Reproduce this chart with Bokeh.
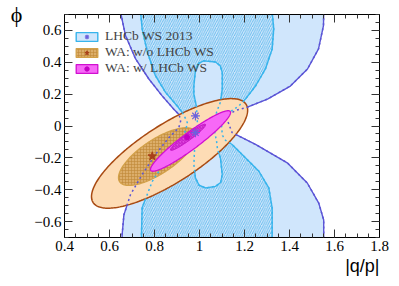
import numpy as np
from bokeh.plotting import figure
from bokeh.models import Range1d, LinearAxis, FixedTicker, Legend, LegendItem, Title
from bokeh.embed import file_html
from bokeh.resources import INLINE

# ---------------- data ----------------
x_ticks = [0.4, 0.6, 0.8, 1.0, 1.2, 1.4, 1.6, 1.8]
y_ticks = [-0.6, -0.4, -0.2, 0.0, 0.2, 0.4, 0.6]
x_minor = [round(0.4 + 0.05 * i, 2) for i in range(29)]
y_minor = [round(-0.7 + 0.05 * i, 2) for i in range(29)]

x_title = "|q/p|"
y_title = "ϕ"
legend_labels = ["LHCb WS 2013", "WA: w/o LHCb WS", "WA: w/ LHCb WS"]

# LHCb WS 2013: outer contour (left and right branches)
lhcb_out_left_x = [0.651, 0.649, 0.671, 0.716, 0.775, 0.834, 0.886, 0.910, 0.916, 0.908,
                   0.864, 0.804, 0.745, 0.693, 0.664, 0.656, 0.656]
lhcb_out_left_y = [0.77, 0.716, 0.568, 0.421, 0.295, 0.189, 0.105, 0.070, 0.030, -0.010,
                   -0.073, -0.179, -0.305, -0.432, -0.558, -0.684, -0.77]
lhcb_out_right_x = [1.552, 1.552, 1.551, 1.529, 1.480, 1.404, 1.302, 1.213, 1.164, 1.129,
                    1.120, 1.129, 1.145, 1.249, 1.390, 1.479, 1.530, 1.552, 1.552, 1.552]
lhcb_out_right_y = [0.77, 0.705, 0.630, 0.484, 0.358, 0.251, 0.169, 0.118, 0.099, 0.074,
                    0.049, 0.017, -0.042, -0.116, -0.231, -0.358, -0.484, -0.590, -0.697, -0.77]
# LHCb WS 2013: inner contour
lhcb_in_left_x = [0.738, 0.738, 0.745, 0.768, 0.804, 0.849, 0.902, 0.929, 0.947, 0.933,
                  0.923, 0.849, 0.790, 0.745, 0.742, 0.742]
lhcb_in_left_y = [0.77, 0.716, 0.611, 0.464, 0.316, 0.211, 0.124, 0.074, 0.017, -0.047,
                  -0.116, -0.221, -0.348, -0.514, -0.684, -0.77]
lhcb_in_right_x = [1.324, 1.323, 1.330, 1.323, 1.293, 1.249, 1.204, 1.175, 1.133, 1.102,
                   1.098, 1.102, 1.116, 1.145, 1.204, 1.264, 1.308, 1.323, 1.323, 1.324]
lhcb_in_right_y = [0.77, 0.716, 0.611, 0.484, 0.358, 0.251, 0.169, 0.126, 0.086, 0.042,
                   -0.008, -0.059, -0.090, -0.116, -0.200, -0.284, -0.389, -0.516, -0.684, -0.77]
lhcb_hole_x = [1.018, 1.071, 1.092, 1.101, 1.101, 1.093, 1.076, 1.067, 1.067, 1.076, 1.080,
               1.093, 1.101, 1.094, 1.071, 1.027, 0.998, 0.982, 0.975, 0.978, 0.991, 0.991,
               0.987, 0.975, 0.975, 0.982, 0.995]
lhcb_hole_y = [0.409, 0.402, 0.378, 0.337, 0.232, 0.150, 0.087, 0.030, -0.034, -0.097, -0.147,
               -0.200, -0.305, -0.355, -0.379, -0.389, -0.372, -0.326, -0.242, -0.147, -0.053,
               0.011, 0.118, 0.200, 0.253, 0.347, 0.392]
lhcb_best_x = [0.982, 0.982]
lhcb_best_y = [0.063, -0.042]

# World averages: centre, half extent in x / y, correlation
wa_wo_cx, wa_wo_cy = [0.867, 0.813], [-0.172, -0.192]
wa_wo_ex, wa_wo_ey = [0.347, 0.173], [0.344, 0.181]
wa_wo_rho = [0.789, 0.73]
wa_wo_best = (0.790, -0.190)

wa_w_cx, wa_w_cy = [0.960, 0.949], [-0.094, -0.071]
wa_w_ex, wa_w_ey = [0.178, 0.078], [0.190, 0.082]
wa_w_rho = [0.94, 0.955]
wa_w_best = (0.945, -0.070)


def ellipse(cx, cy, ex, ey, rho, n=240):
    t = np.linspace(0, 2 * np.pi, n)
    d = np.arccos(rho)
    return cx + ex * np.cos(t), cy + ey * np.cos(t + d)


# ---------------- colours ----------------
LIGHT_BLUE = "#d0e6fc"
PURPLE = "#5b55d6"
CYAN = "#38b4ec"
PEACH = "#fddcb5"
BROWN = "#a84a12"
TAN = "#dcae6a"
GOLD = "#d2a048"
MAGENTA = "#f768f7"
MAGENTA_LINE = "#d010d0"
SERIF = "Liberation Serif"

p = figure(width=390, height=282, x_range=Range1d(0.4, 1.8), y_range=Range1d(-0.7, 0.7),
           output_backend="svg", toolbar_location=None,
           min_border_left=64, min_border_right=11, min_border_top=14, min_border_bottom=45)
p.grid.visible = False
p.outline_line_color = "black"
p.background_fill_color = "white"
p.border_fill_color = "white"

# LHCb outer region
out_x = lhcb_out_left_x + lhcb_out_right_x[::-1]
out_y = lhcb_out_left_y + lhcb_out_right_y[::-1]
p.patch(out_x, out_y, fill_color=LIGHT_BLUE, line_color=PURPLE, line_width=1.4)

# LHCb inner (hatched) band
in_x = lhcb_in_left_x + lhcb_in_right_x[::-1]
in_y = lhcb_in_left_y + lhcb_in_right_y[::-1]
p.patch(in_x, in_y, fill_color=LIGHT_BLUE, line_color=CYAN, line_width=1.4,
        hatch_pattern="/", hatch_color="#4db3ea", hatch_scale=4.5, hatch_weight=0.8)
hole = p.patch(lhcb_hole_x, lhcb_hole_y, fill_color=LIGHT_BLUE, line_color=CYAN, line_width=1.4)

# WA without LHCb WS
ox, oy = ellipse(wa_wo_cx[0], wa_wo_cy[0], wa_wo_ex[0], wa_wo_ey[0], wa_wo_rho[0])
p.patch(ox, oy, fill_color=PEACH, line_color=BROWN, line_width=1.5)
ix, iy = ellipse(wa_wo_cx[1], wa_wo_cy[1], wa_wo_ex[1], wa_wo_ey[1], wa_wo_rho[1])
wo_in = p.patch(ix, iy, fill_color=TAN, line_color=GOLD, line_width=1.3,
                hatch_pattern="+", hatch_color="#c08838", hatch_scale=3, hatch_weight=0.6)

# dotted continuation of LHCb contours
p.multi_line([lhcb_out_left_x, lhcb_out_right_x], [lhcb_out_left_y, lhcb_out_right_y],
             line_color=PURPLE, line_width=1.5, line_dash="2 3")
p.multi_line([lhcb_in_left_x, lhcb_in_right_x, lhcb_hole_x + lhcb_hole_x[:1]],
             [lhcb_in_left_y, lhcb_in_right_y, lhcb_hole_y + lhcb_hole_y[:1]],
             line_color=CYAN, line_width=1.5, line_dash="2 3")

# WA with LHCb WS
mx, my = ellipse(wa_w_cx[0], wa_w_cy[0], wa_w_ex[0], wa_w_ey[0], wa_w_rho[0])
w_out = p.patch(mx, my, fill_color=MAGENTA, line_color=MAGENTA_LINE, line_width=1.3)
nx, ny = ellipse(wa_w_cx[1], wa_w_cy[1], wa_w_ex[1], wa_w_ey[1], wa_w_rho[1])
p.patch(nx, ny, fill_color="#e048e0", line_color="#c010c0", line_width=1.0,
        hatch_pattern="/", hatch_color="#b000b0", hatch_scale=3, hatch_weight=0.6)

# best-fit points
lstar = p.scatter(lhcb_best_x, lhcb_best_y, marker="asterisk", size=9, line_color="#6c62dc",
                  line_width=1.2)
wstar = p.scatter([wa_wo_best[0]], [wa_wo_best[1]], marker="star", size=9,
                  fill_color="#a8401a", line_color="#a8401a")
wdot = p.scatter([wa_w_best[0]], [wa_w_best[1]], marker="circle", size=5,
                 fill_color="#c400c4", line_color="#c400c4")

# ---------------- axes ----------------
for ax in (p.xaxis[0], p.yaxis[0]):
    ax.major_tick_in = 8
    ax.major_tick_out = 0
    ax.minor_tick_in = 4
    ax.minor_tick_out = 0
    ax.major_tick_line_color = "#333333"
    ax.minor_tick_line_color = "#333333"
    ax.axis_line_color = "black"
    ax.major_label_text_font = SERIF
    ax.major_label_text_font_size = "15px"
    ax.major_label_text_color = "black"
    ax.major_label_standoff = 3
p.xaxis[0].ticker = FixedTicker(ticks=x_ticks, minor_ticks=x_minor)
p.yaxis[0].ticker = FixedTicker(ticks=y_ticks, minor_ticks=y_minor)
p.xaxis[0].major_label_overrides = {1.0: "1"}
p.yaxis[0].major_label_overrides = {0.0: "0"}

ya = p.yaxis[0]
ya.axis_label = y_title
ya.axis_label_text_font = SERIF
ya.axis_label_text_font_style = "normal"
ya.axis_label_text_font_size = "22px"
ya.axis_label_text_color = "black"
ya.axis_label_orientation = "horizontal"
ya.axis_label_standoff = 9
ya.axis_label_align = "end"

for loc, ticks, minor in (("above", x_ticks, x_minor), ("right", y_ticks, y_minor)):
    ax = LinearAxis(ticker=FixedTicker(ticks=ticks, minor_ticks=minor))
    ax.major_tick_in = 8
    ax.major_tick_out = 0
    ax.minor_tick_in = 4
    ax.minor_tick_out = 0
    ax.major_tick_line_color = "#333333"
    ax.minor_tick_line_color = "#333333"
    ax.axis_line_color = "black"
    ax.major_label_text_color = None
    ax.major_label_standoff = 0
    p.add_layout(ax, loc)

p.add_layout(Title(text=x_title, align="right", text_font="Liberation Sans",
                   text_font_size="18px", text_font_style="normal", text_color="black",
                   standoff=0, offset=0), "below")

legend = Legend(items=[LegendItem(label=legend_labels[0], renderers=[hole, lstar]),
                       LegendItem(label=legend_labels[1], renderers=[wo_in, wstar]),
                       LegendItem(label=legend_labels[2], renderers=[w_out, wdot])],
                location=(9, 161), padding=0, margin=0, spacing=0,
                glyph_width=27, glyph_height=11, label_height=11, label_standoff=5,
                label_text_font=SERIF, label_text_font_size="13.5px",
                background_fill_alpha=0, border_line_alpha=0)
p.add_layout(legend)

open("out.html", "w").write(file_html(p, INLINE))
